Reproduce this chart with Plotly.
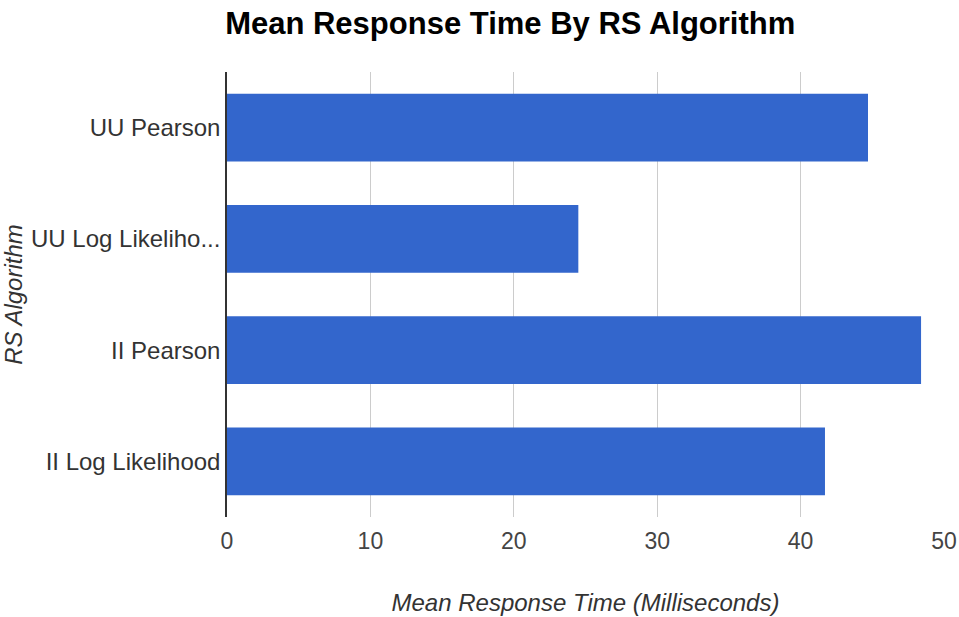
import plotly.graph_objects as go

algorithms = ["UU Pearson", "UU Log Likeliho...", "II Pearson", "II Log Likelihood"]
mean_response_ms = [44.7, 24.5, 48.4, 41.7]
x_ticks = [0, 10, 20, 30, 40, 50]

fig = go.Figure(
    go.Bar(
        x=mean_response_ms,
        y=algorithms,
        orientation="h",
        marker=dict(color="#3366CC", line=dict(width=0)),
        hoverinfo="x+y",
    )
)

fig.update_layout(
    width=959,
    height=617,
    margin=dict(l=227, r=15, t=72, b=100, autoexpand=False),
    paper_bgcolor="white",
    plot_bgcolor="white",
    font=dict(family="Liberation Sans, Arial, sans-serif", color="#444"),
    bargap=0.39,
    showlegend=False,
    title=dict(
        text="<b>Mean Response Time By RS Algorithm</b>",
        x=0.395,
        xref="paper",
        xanchor="center",
        y=0.962,
        yanchor="middle",
        font=dict(size=31, color="#000"),
    ),
)

fig.update_xaxes(
    range=[0, 50],
    tickvals=x_ticks,
    showgrid=True,
    gridcolor="#CCCCCC",
    gridwidth=1,
    zeroline=False,
    showline=False,
    ticks="outside",
    ticklen=3,
    tickcolor="rgba(0,0,0,0)",
    tickfont=dict(size=23, color="#444"),
    title=dict(
        text="<i>Mean Response Time (Milliseconds)</i>",
        font=dict(size=24, color="#333"),
        standoff=41,
    ),
)

fig.update_yaxes(
    categoryorder="array",
    categoryarray=algorithms,
    autorange="reversed",
    showgrid=False,
    showline=True,
    linecolor="#333",
    linewidth=1.5,
    ticks="",
    tickfont=dict(size=24, color="#333"),
    title=dict(
        text="<i>RS Algorithm</i>",
        font=dict(size=24, color="#333"),
        standoff=16,
    ),
)

# drop the default body margin so the figure fills the window exactly
fig.write_html(
    "out.html",
    config={"displayModeBar": False},
    post_script="document.body.style.margin='0';",
)
